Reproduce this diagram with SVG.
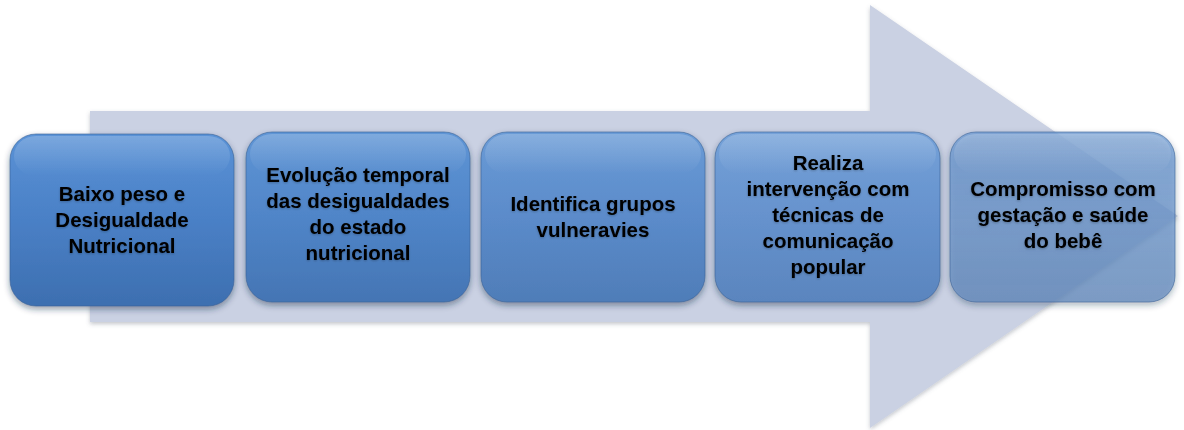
<svg xmlns="http://www.w3.org/2000/svg" width="1184" height="430" viewBox="0 0 1184 430">
<defs>
<linearGradient id="g1" x1="0" y1="0" x2="0" y2="1"><stop offset="0" stop-color="#5a92d6"/><stop offset="0.5" stop-color="#4a80c6"/><stop offset="1" stop-color="#3d6fb0"/></linearGradient>
<linearGradient id="g2" x1="0" y1="0" x2="0" y2="1"><stop offset="0" stop-color="#5f95d5"/><stop offset="0.5" stop-color="#5085c8"/><stop offset="1" stop-color="#4475b4"/></linearGradient>
<linearGradient id="g3" x1="0" y1="0" x2="0" y2="1"><stop offset="0" stop-color="#6a9bd6"/><stop offset="0.5" stop-color="#5b8bca"/><stop offset="1" stop-color="#4f7db8"/></linearGradient>
<linearGradient id="g4" x1="0" y1="0" x2="0" y2="1"><stop offset="0" stop-color="#74a1d8"/><stop offset="0.5" stop-color="#6692cd"/><stop offset="1" stop-color="#5a85be"/></linearGradient>
<linearGradient id="g5" x1="0" y1="0" x2="0" y2="1"><stop offset="0" stop-color="#6f9bd2" stop-opacity="0.78"/><stop offset="0.5" stop-color="#6a95cc" stop-opacity="0.72"/><stop offset="1" stop-color="#5f88bd" stop-opacity="0.7"/></linearGradient>
<linearGradient id="hl" x1="0" y1="0" x2="0" y2="1"><stop offset="0" stop-color="#ffffff" stop-opacity="0.2"/><stop offset="1" stop-color="#ffffff" stop-opacity="0"/></linearGradient>
<filter id="sh" x="-10%" y="-10%" width="120%" height="125%"><feDropShadow dx="0" dy="3" stdDeviation="3" flood-color="#1a2a44" flood-opacity="0.45"/></filter>
<filter id="ash" x="-5%" y="-5%" width="110%" height="110%"><feDropShadow dx="0" dy="2" stdDeviation="2" flood-color="#556070" flood-opacity="0.35"/></filter>
<filter id="tsh" x="-10%" y="-10%" width="120%" height="130%"><feDropShadow dx="0" dy="1" stdDeviation="1.2" flood-color="#000" flood-opacity="0.25"/></filter>
</defs>
<style>
.box{stroke:#3a6296;stroke-width:1;stroke-opacity:0.6}
.t{font-family:"Liberation Sans",Arial,sans-serif;font-weight:bold;font-size:20.5px;fill:#000;text-anchor:middle}
</style>
<g id="arrow" filter="url(#ash)">
<path d="M90,111 H870 V5 L1178,216 L870,428 V322 H90 Z" fill="#cad1e3"/>
</g>
<g id="connectors"></g>
<g id="n1" filter="url(#sh)">
<rect class="box" x="10" y="134" width="224" height="172" rx="26" fill="url(#g1)"/>
<rect x="14" y="136" width="216" height="40" rx="22" fill="url(#hl)"/>
<g filter="url(#tsh)"><text class="t" x="122" y="201">Baixo peso e</text><text class="t" x="122" y="227">Desigualdade</text><text class="t" x="122" y="253">Nutricional</text></g>
</g>
<g id="n2" filter="url(#sh)">
<rect class="box" x="246" y="132" width="224" height="170" rx="26" fill="url(#g2)"/>
<rect x="250" y="134" width="216" height="40" rx="22" fill="url(#hl)"/>
<g filter="url(#tsh)"><text class="t" x="358" y="182">Evolução temporal</text><text class="t" x="358" y="208">das desigualdades</text><text class="t" x="358" y="234">do estado</text><text class="t" x="358" y="260">nutricional</text></g>
</g>
<g id="n3" filter="url(#sh)">
<rect class="box" x="481" y="132" width="224" height="170" rx="26" fill="url(#g3)"/>
<rect x="485" y="134" width="216" height="40" rx="22" fill="url(#hl)"/>
<g filter="url(#tsh)"><text class="t" x="593" y="211">Identifica grupos</text><text class="t" x="593" y="237">vulneravies</text></g>
</g>
<g id="n4" filter="url(#sh)">
<rect class="box" x="715" y="132" width="225" height="170" rx="26" fill="url(#g4)"/>
<rect x="719" y="134" width="217" height="40" rx="22" fill="url(#hl)"/>
<g filter="url(#tsh)"><text class="t" x="828" y="170">Realiza</text><text class="t" x="828" y="196">intervenção com</text><text class="t" x="828" y="222">técnicas de</text><text class="t" x="828" y="248">comunicação</text><text class="t" x="828" y="274">popular</text></g>
</g>
<g id="n5" filter="url(#sh)">
<rect class="box" x="950" y="132" width="225" height="170" rx="26" fill="url(#g5)"/>
<rect x="954" y="134" width="217" height="40" rx="22" fill="url(#hl)"/>
<g filter="url(#tsh)"><text class="t" x="1063" y="196">Compromisso com</text><text class="t" x="1063" y="222">gestação e saúde</text><text class="t" x="1063" y="248">do bebê</text></g>
</g>
</svg>
